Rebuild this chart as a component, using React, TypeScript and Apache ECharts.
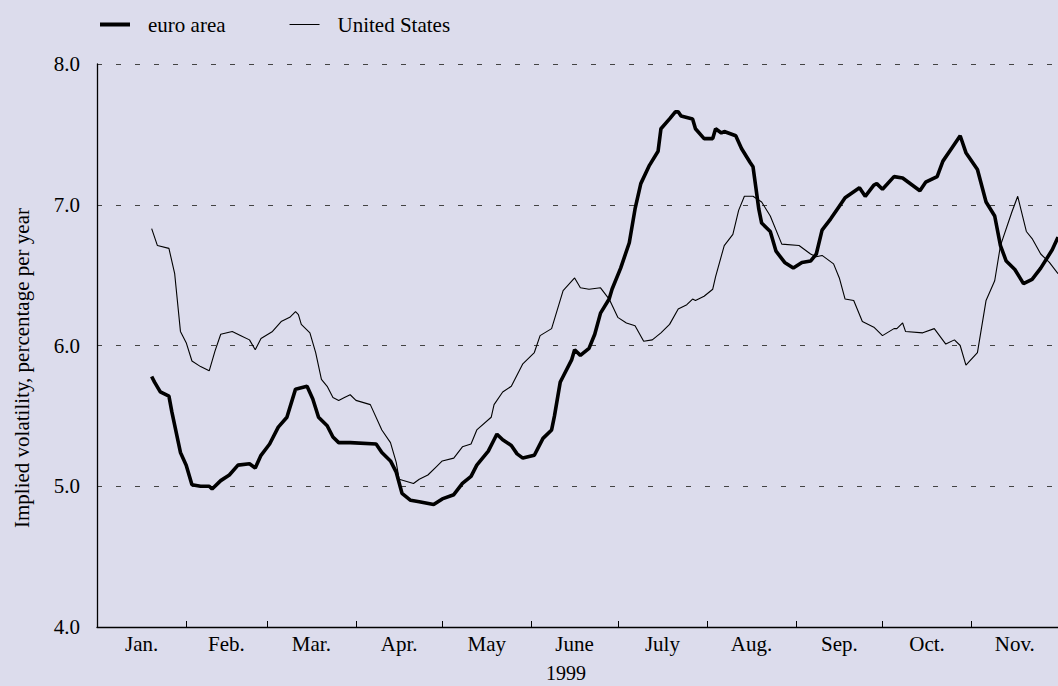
import React, { useEffect, useRef } from "react";
import * as echarts from "echarts";

// Day-of-year (0 = 1 Jan 1999) and implied volatility values
const euroDays = [19, 20, 22, 25, 26, 29, 31, 33, 36, 39, 40, 43, 46, 49, 53, 55, 57, 60, 63, 66, 69, 73, 75, 77, 80, 82, 84, 88, 97, 99, 102, 104, 106, 109, 112, 117, 120, 124, 127, 130, 132, 136, 138, 139, 141, 144, 146, 148, 152, 155, 158, 159, 161, 162, 165, 166, 168, 171, 173, 175, 178, 179, 182, 185, 187, 189, 192, 195, 196, 199, 201, 202, 203, 207, 208, 211, 214, 215, 217, 218, 222, 224, 227, 228, 229, 230, 231, 234, 236, 239, 242, 245, 248, 250, 252, 255, 258, 260, 265, 267, 270, 271, 273, 277, 280, 286, 288, 292, 294, 297, 300, 302, 306, 309, 312, 314, 316, 319, 322, 325, 328, 332, 334];
const euroValues = [5.78, 5.74, 5.67, 5.64, 5.53, 5.24, 5.15, 5.01, 5.0, 5.0, 4.98, 5.04, 5.08, 5.15, 5.16, 5.13, 5.22, 5.3, 5.42, 5.49, 5.69, 5.71, 5.62, 5.49, 5.43, 5.35, 5.31, 5.31, 5.3, 5.24, 5.18, 5.1, 4.95, 4.9, 4.89, 4.87, 4.91, 4.94, 5.02, 5.07, 5.15, 5.25, 5.33, 5.37, 5.33, 5.29, 5.23, 5.2, 5.22, 5.34, 5.4, 5.5, 5.74, 5.78, 5.9, 5.97, 5.93, 5.98, 6.08, 6.23, 6.33, 6.4, 6.55, 6.73, 6.97, 7.15, 7.28, 7.38, 7.54, 7.61, 7.66, 7.66, 7.63, 7.61, 7.54, 7.47, 7.47, 7.54, 7.51, 7.52, 7.49, 7.4, 7.3, 7.27, 7.12, 6.97, 6.87, 6.81, 6.67, 6.59, 6.55, 6.59, 6.6, 6.65, 6.82, 6.9, 6.99, 7.05, 7.12, 7.06, 7.14, 7.15, 7.11, 7.2, 7.19, 7.1, 7.16, 7.2, 7.31, 7.4, 7.49, 7.37, 7.25, 7.02, 6.92, 6.71, 6.6, 6.54, 6.44, 6.47, 6.55, 6.68, 6.77];

const usDays = [19, 21, 25, 27, 29, 31, 33, 36, 39, 41, 43, 47, 50, 53, 55, 57, 61, 64, 67, 69, 70, 71, 74, 76, 78, 80, 82, 84, 86, 88, 90, 95, 99, 102, 104, 105, 110, 112, 115, 118, 120, 124, 127, 130, 132, 137, 138, 141, 144, 148, 152, 154, 158, 162, 166, 168, 171, 175, 178, 181, 184, 187, 190, 193, 196, 199, 202, 205, 207, 208, 211, 214, 215, 218, 221, 223, 225, 228, 231, 234, 238, 244, 248, 250, 252, 256, 258, 260, 263, 266, 270, 273, 277, 278, 280, 281, 287, 291, 295, 298, 300, 302, 306, 309, 312, 314, 318, 320, 323, 325, 328, 331, 334];
const usValues = [6.83, 6.71, 6.69, 6.51, 6.1, 6.02, 5.89, 5.85, 5.82, 5.96, 6.08, 6.1, 6.07, 6.04, 5.97, 6.05, 6.1, 6.17, 6.2, 6.24, 6.22, 6.15, 6.09, 5.95, 5.76, 5.71, 5.63, 5.61, 5.63, 5.65, 5.61, 5.58, 5.4, 5.31, 5.17, 5.05, 5.02, 5.05, 5.08, 5.14, 5.18, 5.2, 5.28, 5.3, 5.4, 5.49, 5.58, 5.67, 5.71, 5.87, 5.95, 6.07, 6.12, 6.39, 6.48, 6.41, 6.4, 6.41, 6.33, 6.2, 6.16, 6.14, 6.03, 6.04, 6.09, 6.15, 6.26, 6.29, 6.33, 6.32, 6.35, 6.4, 6.49, 6.71, 6.79, 6.96, 7.06, 7.06, 7.02, 6.92, 6.72, 6.71, 6.65, 6.63, 6.64, 6.58, 6.48, 6.33, 6.32, 6.17, 6.13, 6.07, 6.12, 6.12, 6.16, 6.1, 6.09, 6.12, 6.01, 6.04, 6.0, 5.86, 5.95, 6.32, 6.46, 6.71, 6.95, 7.06, 6.81, 6.76, 6.65, 6.59, 6.51];

const seriesNames = ["euro area", "United States"];
const monthLabels = ["Jan.", "Feb.", "Mar.", "Apr.", "May", "June", "July", "Aug.", "Sep.", "Oct.", "Nov."];
const monthStarts = [0, 31, 59, 90, 120, 151, 181, 212, 243, 273, 304, 334];
const yearLabel = "1999";
const yAxisTitle = "Implied volatility, percentage per year";

const FONT = "'Liberation Serif', 'Times New Roman', serif";
const FS = 21;

export default function App() {
  const ref = useRef<HTMLDivElement>(null);

  useEffect(() => {
    if (!ref.current) return;
    const chart = echarts.init(ref.current, null, { renderer: "svg" });
    const monthMids = monthLabels.map((_, i) => (monthStarts[i] + monthStarts[i + 1]) / 2);
    const tickValues = monthStarts.slice(1, monthStarts.length - 1);

    chart.setOption({
      animation: false,
      backgroundColor: "#dcdcec",
      textStyle: { fontFamily: FONT },
      legend: {
        data: [
          { name: seriesNames[0], icon: "path://M0,0 H30 V4 H0 Z" },
          { name: seriesNames[1], icon: "path://M0,0 H30 V1 H0 Z" },
        ],
        left: 100,
        top: 14,
        padding: 0,
        itemWidth: 30,
        itemHeight: 14,
        itemGap: 64,
        itemStyle: { color: "#000", borderWidth: 0 },
        lineStyle: { width: 0 },
        textStyle: { fontFamily: FONT, fontSize: FS, color: "#000", padding: [0, 0, 0, 13] },
      },
      grid: { left: 97, right: 0, top: 64, bottom: 59, containLabel: false },
      xAxis: {
        type: "value",
        min: 0,
        max: 334,
        axisLine: { show: true, lineStyle: { color: "#000", width: 1.3 } },
        axisTick: {
          show: true,
          inside: true,
          length: 6,
          customValues: tickValues,
          lineStyle: { color: "#000", width: 1 },
        },
        axisLabel: {
          customValues: monthMids,
          formatter: (v: number) => {
            const i = monthMids.findIndex((m) => Math.abs(m - v) < 0.01);
            return i >= 0 ? monthLabels[i] : "";
          },
          fontFamily: FONT,
          fontSize: FS,
          color: "#000",
          margin: 6,
        },
        splitLine: { show: false },
      },
      yAxis: {
        type: "value",
        min: 4,
        max: 8,
        interval: 1,
        axisLine: { show: true, lineStyle: { color: "#000", width: 1.3 } },
        axisTick: { show: false },
        axisLabel: {
          formatter: (v: number) => v.toFixed(1),
          fontFamily: FONT,
          fontSize: FS,
          color: "#000",
          margin: 17,
        },
        splitLine: {
          show: true,
          lineStyle: { color: "#444", width: 1, type: [5, 14] },
        },
      },
      graphic: [
        {
          type: "text",
          x: 566,
          y: 673,
          style: {
            text: yearLabel,
            fontFamily: FONT,
            fontSize: 20,
            fill: "#000",
            align: "center",
            verticalAlign: "middle",
          },
        },
        {
          type: "text",
          x: 22,
          y: 368,
          rotation: Math.PI / 2,
          style: {
            text: yAxisTitle,
            fontFamily: FONT,
            fontSize: FS,
            fill: "#000",
            align: "center",
            verticalAlign: "middle",
          },
        },
      ],
      series: [
        {
          name: seriesNames[0],
          type: "line",
          symbol: "none",
          showSymbol: false,
          data: euroDays.map((d, i) => [d, euroValues[i]]),
          lineStyle: { color: "#000", width: 3.6 },
          itemStyle: { color: "#000" },
          z: 3,
        },
        {
          name: seriesNames[1],
          type: "line",
          symbol: "none",
          showSymbol: false,
          data: usDays.map((d, i) => [d, usValues[i]]),
          lineStyle: { color: "#000", width: 1.1 },
          itemStyle: { color: "#000" },
          z: 2,
        },
      ],
    });
    return () => chart.dispose();
  }, []);

  return (
    <div
      ref={ref}
      style={{ position: "fixed", left: 0, top: 0, width: 1058, height: 686 }}
    />
  );
}
